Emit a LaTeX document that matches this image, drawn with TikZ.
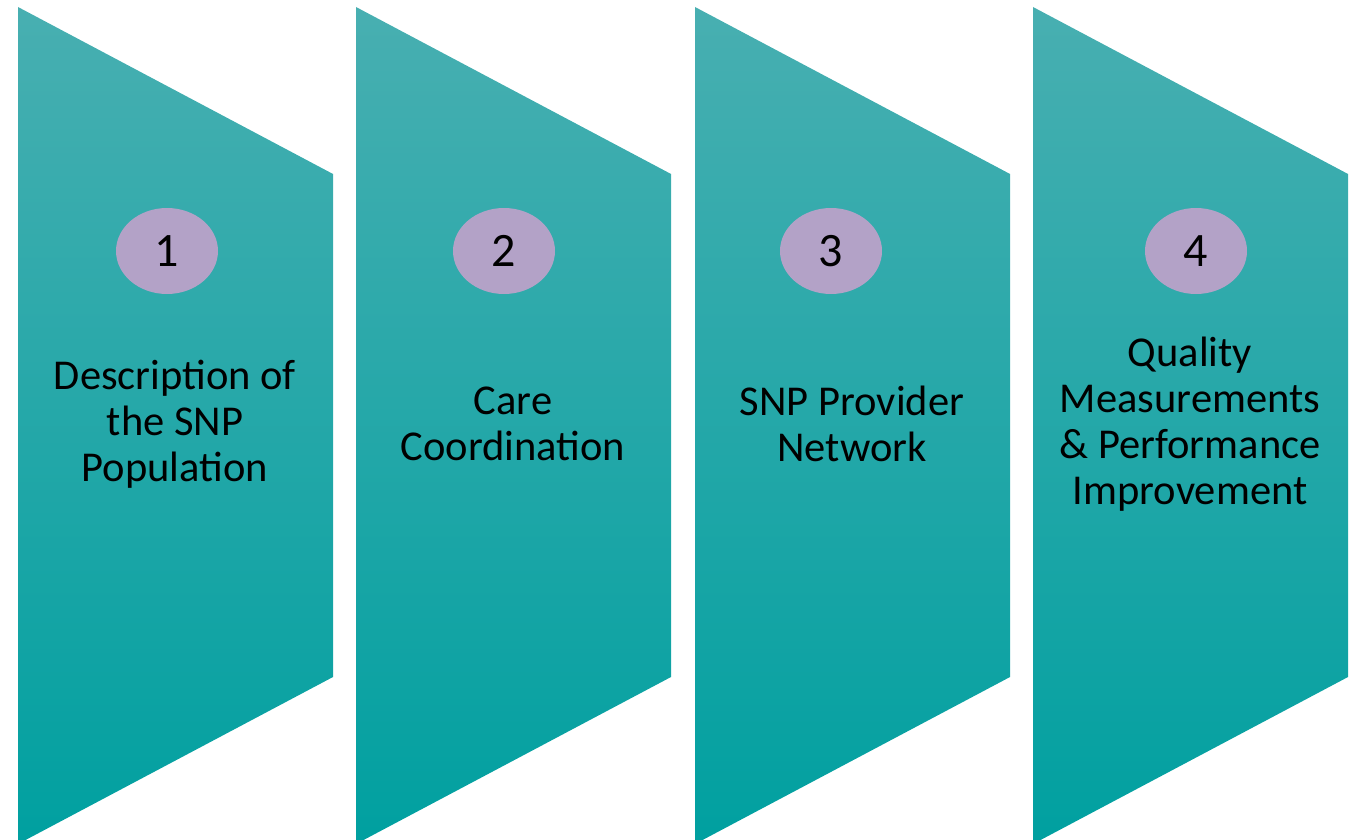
\documentclass[tikz,border=0pt]{standalone}
\usepackage{fontspec}
\setmainfont{Carlito}
\usepackage{xcolor}
\usetikzlibrary{shapes.geometric, positioning}
\definecolor{tealtop}{HTML}{48AFB1}
\definecolor{tealmid}{HTML}{0AA5A5}
\definecolor{tealbot}{HTML}{00A0A0}
\definecolor{lilac}{HTML}{B3A2C7}
\tikzset{
  x=1pt, y=-1pt,
  %
  chevron/.style={top color=tealtop, middle color=tealmid, bottom color=tealbot,
                  draw=none},
  badge/.style={ellipse, fill=lilac, draw=none, inner sep=0pt,
                minimum width=102pt, minimum height=86pt,
                font=\fontsize{48}{50}\selectfont, text=black},
  caption/.style={align=center, text=black, inner sep=0pt,
                  font=\fontsize{42.5}{46}\selectfont},
}

\begin{document}
\begin{tikzpicture}

  \useasboundingbox (0,0) rectangle (1355,840);
  \clip (0,0) rectangle (1355,840);

  % the four slanted panels
  \foreach \px/\name in {18/p1, 356/p2, 695/p3, 1033/p4} {
    \shade[chevron] (\px,7) -- (\px+315,174) -- (\px+315,677)
      -- (\px,844) -- cycle;
    \coordinate (\name) at (\px+157,424);
  }

  % numbered badges
  \node[badge] (b1) at (167,251) {1};
  \node[badge] (b2) at (504,251) {2};
  \node[badge] (b3) at (831,251) {3};
  \node[badge] (b4) at (1196,251) {4};

  % panel captions
  \node[caption] (t1) at (p1) {Description of\\the SNP\\Population};
  \node[caption] (t2) at (p2) {Care\\Coordination};
  \node[caption] (t3) at (p3) {SNP Provider\\Network};
  \node[caption] (t4) at (p4) {Quality\\Measurements\\\& Performance\\Improvement};

\end{tikzpicture}
\end{document}
